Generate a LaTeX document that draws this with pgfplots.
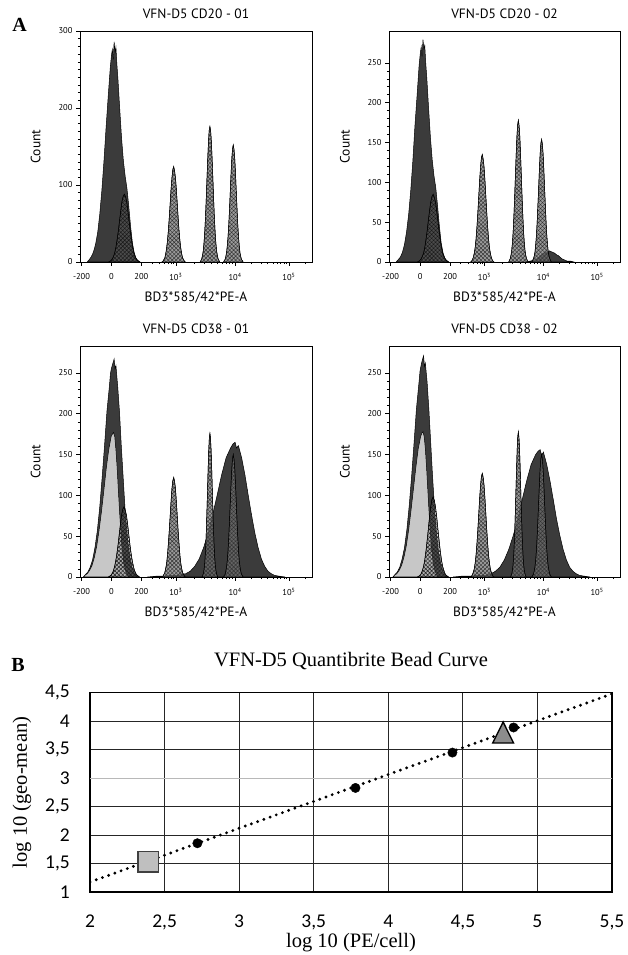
\documentclass[border=0pt]{standalone}
\usepackage{fontspec}
\usepackage{pgfplots}
\pgfplotsset{compat=1.18}
\usetikzlibrary{patterns.meta}
\newfontfamily\fj{PT Sans}
\newfontfamily\tnr{Liberation Serif}
\newfontfamily\carl{Carlito}

\tikzset{
  darkfill/.style={fill=black!77, draw=black, line width=0.5pt},
  lightfill/.style={fill=black!22, draw=black, line width=0.5pt},
  beadfill/.style={fill=black!55, fill opacity=0.72, draw=black, line width=0.45pt,
    postaction={fill opacity=1, pattern={Hatch[angle=45,distance=2.8pt,line width=0.45pt]}, pattern color=black!80}},
  beadlow/.style={fill=black!55, fill opacity=0.3, draw=black, line width=0.45pt,
    postaction={fill opacity=1, pattern={Hatch[angle=45,distance=2.8pt,line width=0.45pt]}, pattern color=black!90}},
}

\pgfplotsset{
  hist/.style={
    scale only axis, width=232pt, height=231pt,
    xmin=-0.05, xmax=7.7, ymin=0,
    axis on top,
    axis line style={line width=0.7pt},
    xtick={0,1,2,3.15,5.13,6.93},
    xticklabels={-200,0,200,10\textsuperscript{3},10\textsuperscript{4},10\textsuperscript{5}},
    minor xtick={2.35,2.6,2.78,2.9,3.0,3.07,3.75,4.09,4.34,4.53,4.69,4.82,4.94,5.04,5.67,5.99,6.21,6.39,6.53,6.65,6.76,6.85,7.47},
    tick align=outside, xtick pos=left, ytick pos=left,
    major tick length=4pt, minor tick length=2.2pt,
    every tick/.style={black, line width=0.5pt},
    ticklabel style={font=\fj\fontsize{8.5}{10}\selectfont},
    xticklabel style={yshift=-4pt},
    /pgf/number format/assume math mode=true,
    title style={font=\fj\fontsize{13.5}{15}\selectfont, at={(axis description cs:0.5,1.028)}, anchor=base, yshift=0pt},
    xlabel={BD3*585/42*PE-A},
    ylabel={Count},
    every axis x label/.style={font=\fj\fontsize{13.5}{15}\selectfont, at={(axis description cs:0.5,-0.169)}, anchor=base},
    every axis y label/.style={font=\fj\fontsize{13.5}{15}\selectfont, at={(axis description cs:-0.171,0.5)}, rotate=90, anchor=base},
  }
}

\begin{document}
\begin{tikzpicture}
\useasboundingbox (0,0) rectangle (627pt,955pt);

\node[anchor=base, font=\tnr\bfseries\fontsize{20}{22}\selectfont] at (19.5pt,923pt) {A};
\node[anchor=base, font=\tnr\bfseries\fontsize{20}{22}\selectfont] at (18pt,283pt) {B};

% ---------------- Panel 1 ----------------
\begin{axis}[hist, at={(80pt,693pt)}, anchor=south west, ymax=300,
  ytick={0,100,200,300}, minor y tick num=9, title={VFN-D5 CD20 - 01}]
\addplot[darkfill] coordinates {(0.19,0)(0.26,3)(0.33,7)(0.40,13)(0.47,23)(0.54,38)(0.61,62)(0.68,93)(0.75,131)(0.82,174)(0.89,214)(0.96,252)(1.00,268)(1.03,276)(1.06,263)(1.09,286)(1.12,272)(1.15,279)(1.18,258)(1.22,236)(1.28,197)(1.34,160)(1.40,131)(1.46,111)(1.52,95)(1.58,72)(1.64,46)(1.70,25)(1.76,12)(1.82,5)(1.88,2)(1.95,0)} \closedcycle;
\addplot[beadlow] coordinates {(0.91,0)(0.95,1)(0.99,2)(1.03,4)(1.07,7)(1.11,12)(1.15,19)(1.19,29)(1.23,40)(1.27,53)(1.31,66)(1.35,78)(1.39,85)(1.43,88)(1.47,85)(1.51,78)(1.55,66)(1.59,53)(1.63,40)(1.67,29)(1.71,19)(1.75,12)(1.79,7)(1.83,4)(1.87,2)(1.91,1)(1.95,0)} \closedcycle;
\addplot[beadfill] coordinates {(2.69,0)(2.72,1)(2.75,3)(2.78,5)(2.81,10)(2.84,17)(2.87,27)(2.90,40)(2.93,57)(2.96,75)(2.99,94)(3.02,109)(3.05,120)(3.08,124)(3.11,118)(3.14,109)(3.17,94)(3.20,75)(3.23,57)(3.26,40)(3.29,27)(3.32,17)(3.35,10)(3.38,5)(3.41,3)(3.44,1)(3.47,0)} \closedcycle;
\addplot[beadfill] coordinates {(3.965,0)(3.99,2)(4.015,4)(4.04,8)(4.065,14)(4.09,24)(4.115,38)(4.14,57)(4.165,81)(4.19,107)(4.215,133)(4.24,155)(4.265,171)(4.29,176)(4.315,170)(4.34,155)(4.365,133)(4.39,107)(4.415,81)(4.44,57)(4.465,38)(4.49,24)(4.515,14)(4.54,8)(4.565,4)(4.59,2)(4.615,0)} \closedcycle;
\addplot[beadfill] coordinates {(4.745,0)(4.77,2)(4.795,3)(4.82,7)(4.845,12)(4.87,21)(4.895,33)(4.92,49)(4.945,70)(4.97,92)(4.995,115)(5.02,134)(5.045,147)(5.07,152)(5.095,146)(5.12,134)(5.145,115)(5.17,92)(5.195,70)(5.22,49)(5.245,33)(5.27,21)(5.295,12)(5.32,7)(5.345,3)(5.37,2)(5.395,0)} \closedcycle;
\end{axis}

% ---------------- Panel 2 ----------------
\begin{axis}[hist, at={(389pt,693pt)}, anchor=south west, width=231pt, ymax=290,
  ytick={0,50,100,150,200,250}, minor y tick num=4, title={VFN-D5 CD20 - 02}]
\addplot[darkfill] coordinates {(0.19,0)(0.26,3)(0.33,6)(0.40,12)(0.47,22)(0.54,38)(0.61,60)(0.68,90)(0.75,127)(0.82,171)(0.89,208)(0.96,247)(1.00,262)(1.03,270)(1.06,258)(1.09,279)(1.12,268)(1.15,272)(1.18,251)(1.22,230)(1.28,192)(1.34,156)(1.40,128)(1.46,108)(1.52,93)(1.58,70)(1.64,45)(1.70,24)(1.76,12)(1.82,5)(1.88,2)(1.95,0)} \closedcycle;
\addplot[darkfill] coordinates {(4.55,0)(4.67,1)(4.79,2)(4.85,3)(4.91,4)(4.97,6)(5.03,8)(5.09,10)(5.15,11)(5.21,13)(5.27,12)(5.33,14)(5.39,13)(5.45,12)(5.51,11)(5.57,9)(5.63,8)(5.69,6)(5.75,4)(5.81,3)(5.87,2)(5.93,1)(6.05,1)(6.15,0)} \closedcycle;
\addplot[beadlow] coordinates {(0.91,0)(0.95,1)(0.99,2)(1.03,4)(1.07,7)(1.11,11)(1.15,18)(1.19,28)(1.23,39)(1.27,52)(1.31,64)(1.35,75)(1.39,82)(1.43,85)(1.47,81)(1.51,75)(1.55,64)(1.59,52)(1.63,39)(1.67,28)(1.71,18)(1.75,11)(1.79,7)(1.83,4)(1.87,2)(1.91,1)(1.95,0)} \closedcycle;
\addplot[beadfill] coordinates {(2.69,0)(2.72,1)(2.75,3)(2.78,6)(2.81,11)(2.84,18)(2.87,29)(2.90,44)(2.93,62)(2.96,82)(2.99,102)(3.02,119)(3.05,131)(3.08,135)(3.11,129)(3.14,119)(3.17,102)(3.20,82)(3.23,62)(3.26,44)(3.29,29)(3.32,18)(3.35,11)(3.38,6)(3.41,3)(3.44,1)(3.47,0)} \closedcycle;
\addplot[beadfill] coordinates {(3.965,0)(3.99,2)(4.015,4)(4.04,8)(4.065,14)(4.09,24)(4.115,38)(4.14,58)(4.165,82)(4.19,108)(4.215,134)(4.24,157)(4.265,172)(4.29,178)(4.315,171)(4.34,157)(4.365,134)(4.39,108)(4.415,82)(4.44,58)(4.465,38)(4.49,24)(4.515,14)(4.54,8)(4.565,4)(4.59,2)(4.615,0)} \closedcycle;
\addplot[beadfill] coordinates {(4.745,0)(4.77,2)(4.795,4)(4.82,7)(4.845,12)(4.87,21)(4.895,33)(4.92,50)(4.945,71)(4.97,93)(4.995,116)(5.02,136)(5.045,149)(5.07,154)(5.095,148)(5.12,136)(5.145,116)(5.17,93)(5.195,71)(5.22,50)(5.245,33)(5.27,21)(5.295,12)(5.32,7)(5.345,4)(5.37,2)(5.395,0)} \closedcycle;
\end{axis}

% ---------------- Panel 3 ----------------
\begin{axis}[hist, at={(80pt,378pt)}, anchor=south west, ymax=283,
  ytick={0,50,100,150,200,250}, minor y tick num=4, title={VFN-D5 CD38 - 01}]
\addplot[darkfill] coordinates {(0.08,0)(0.13,3)(0.21,6)(0.29,12)(0.37,21)(0.45,36)(0.53,57)(0.61,86)(0.69,122)(0.77,161)(0.85,203)(0.93,233)(0.97,250)(1.01,257)(1.05,262)(1.09,267)(1.12,255)(1.15,259)(1.21,233)(1.27,202)(1.33,160)(1.39,123)(1.45,86)(1.51,57)(1.57,36)(1.63,21)(1.69,12)(1.75,6)(1.81,3)(1.88,0)} \closedcycle;
\addplot[lightfill] coordinates {(0.06,0)(0.11,2)(0.19,4)(0.27,8)(0.35,14)(0.43,24)(0.51,38)(0.59,58)(0.67,81)(0.75,107)(0.83,134)(0.91,156)(0.99,172)(1.03,175)(1.07,177)(1.11,172)(1.15,156)(1.19,134)(1.23,107)(1.27,81)(1.31,58)(1.35,38)(1.39,24)(1.43,14)(1.47,8)(1.51,4)(1.55,2)(1.60,0)} \closedcycle;
\addplot[darkfill] coordinates {(2.2,0)(2.5,1)(2.8,1)(3.0,2)(3.18,2)(3.33,3)(3.48,4)(3.63,7)(3.78,13)(3.93,22)(4.08,36)(4.23,54)(4.38,76)(4.53,100)(4.68,125)(4.83,146)(4.98,158)(5.06,163)(5.13,165)(5.18,158)(5.24,161)(5.35,146)(5.46,125)(5.57,100)(5.68,76)(5.79,54)(5.90,36)(6.01,22)(6.12,13)(6.23,7)(6.34,4)(6.45,2)(6.6,1)(6.8,0)} \closedcycle;
\addplot[beadlow] coordinates {(0.90,0)(0.94,1)(0.98,2)(1.02,4)(1.06,7)(1.10,12)(1.14,19)(1.18,28)(1.22,39)(1.26,52)(1.30,65)(1.34,76)(1.38,83)(1.42,86)(1.46,82)(1.50,76)(1.54,65)(1.58,52)(1.62,39)(1.66,28)(1.70,19)(1.74,12)(1.78,7)(1.82,4)(1.86,2)(1.90,1)(1.94,0)} \closedcycle;
\addplot[beadfill] coordinates {(2.69,0)(2.72,1)(2.75,3)(2.78,5)(2.81,10)(2.84,16)(2.87,26)(2.90,40)(2.93,56)(2.96,74)(2.99,92)(3.02,108)(3.05,118)(3.08,122)(3.11,117)(3.14,108)(3.17,92)(3.20,74)(3.23,56)(3.26,40)(3.29,26)(3.32,16)(3.35,10)(3.38,5)(3.41,3)(3.44,1)(3.47,0)} \closedcycle;
\addplot[beadfill] coordinates {(4.03,0)(4.05,2)(4.07,4)(4.09,8)(4.11,14)(4.13,24)(4.15,38)(4.17,57)(4.19,81)(4.21,107)(4.23,133)(4.25,155)(4.27,171)(4.29,176)(4.31,170)(4.33,155)(4.35,133)(4.37,107)(4.39,81)(4.41,57)(4.43,38)(4.45,24)(4.47,14)(4.49,8)(4.51,4)(4.53,2)(4.55,0)} \closedcycle;
\addplot[beadfill] coordinates {(4.745,0)(4.77,2)(4.795,3)(4.82,7)(4.845,12)(4.87,20)(4.895,32)(4.92,49)(4.945,69)(4.97,91)(4.995,113)(5.02,132)(5.045,145)(5.07,150)(5.095,144)(5.12,132)(5.145,113)(5.17,91)(5.195,69)(5.22,49)(5.245,32)(5.27,20)(5.295,12)(5.32,7)(5.345,3)(5.37,2)(5.395,0)} \closedcycle;
\end{axis}

% ---------------- Panel 4 ----------------
\begin{axis}[hist, at={(389pt,378pt)}, anchor=south west, width=231pt, ymax=283,
  ytick={0,50,100,150,200,250}, minor y tick num=4, title={VFN-D5 CD38 - 02}]
\addplot[darkfill] coordinates {(0.10,0)(0.15,3)(0.23,6)(0.31,12)(0.39,22)(0.47,36)(0.55,58)(0.63,88)(0.71,124)(0.79,164)(0.87,206)(0.95,236)(0.99,252)(1.03,260)(1.07,266)(1.11,271)(1.14,258)(1.17,262)(1.23,238)(1.29,204)(1.35,164)(1.41,124)(1.47,88)(1.53,58)(1.59,36)(1.65,22)(1.71,12)(1.77,6)(1.83,3)(1.90,0)} \closedcycle;
\addplot[lightfill] coordinates {(0.08,0)(0.13,2)(0.21,4)(0.29,8)(0.37,14)(0.45,24)(0.53,38)(0.61,58)(0.69,82)(0.77,108)(0.85,134)(0.93,157)(1.01,172)(1.05,176)(1.09,178)(1.13,172)(1.17,157)(1.21,134)(1.25,108)(1.29,82)(1.33,58)(1.37,38)(1.41,24)(1.45,14)(1.49,8)(1.53,4)(1.57,2)(1.62,0)} \closedcycle;
\addplot[darkfill] coordinates {(2.1,0)(2.4,1)(2.7,1)(2.9,2)(3.08,2)(3.22,2)(3.37,4)(3.52,7)(3.67,12)(3.82,21)(3.97,34)(4.12,51)(4.27,71)(4.42,95)(4.57,118)(4.72,138)(4.87,150)(4.95,154)(5.02,156)(5.07,149)(5.13,153)(5.24,138)(5.35,118)(5.46,95)(5.57,71)(5.68,51)(5.79,34)(5.90,21)(6.01,12)(6.12,7)(6.23,4)(6.34,2)(6.5,1)(6.7,0)} \closedcycle;
\addplot[beadlow] coordinates {(0.91,0)(0.95,1)(0.99,2)(1.03,4)(1.07,8)(1.11,13)(1.15,21)(1.19,32)(1.23,45)(1.27,59)(1.31,74)(1.35,86)(1.39,95)(1.43,98)(1.47,94)(1.51,86)(1.55,74)(1.59,59)(1.63,45)(1.67,32)(1.71,21)(1.75,13)(1.79,8)(1.83,4)(1.87,2)(1.91,1)(1.95,0)} \closedcycle;
\addplot[beadfill] coordinates {(2.69,0)(2.72,1)(2.75,3)(2.78,6)(2.81,10)(2.84,17)(2.87,27)(2.90,41)(2.93,58)(2.96,77)(2.99,96)(3.02,112)(3.05,123)(3.08,127)(3.11,122)(3.14,112)(3.17,96)(3.20,77)(3.23,58)(3.26,41)(3.29,27)(3.32,17)(3.35,10)(3.38,6)(3.41,3)(3.44,1)(3.47,0)} \closedcycle;
\addplot[beadfill] coordinates {(4.03,0)(4.05,2)(4.07,4)(4.09,8)(4.11,14)(4.13,24)(4.15,38)(4.17,58)(4.19,82)(4.21,108)(4.23,134)(4.25,157)(4.27,172)(4.29,178)(4.31,171)(4.33,157)(4.35,134)(4.37,108)(4.39,82)(4.41,58)(4.43,38)(4.45,24)(4.47,14)(4.49,8)(4.51,4)(4.53,2)(4.55,0)} \closedcycle;
\addplot[beadfill] coordinates {(4.745,0)(4.77,2)(4.795,3)(4.82,7)(4.845,12)(4.87,20)(4.895,32)(4.92,49)(4.945,69)(4.97,91)(4.995,113)(5.02,132)(5.045,145)(5.07,150)(5.095,144)(5.12,132)(5.145,113)(5.17,91)(5.195,69)(5.22,49)(5.245,32)(5.27,20)(5.295,12)(5.32,7)(5.345,3)(5.37,2)(5.395,0)} \closedcycle;
\end{axis}

% ---------------- Panel B ----------------
\begin{axis}[at={(90pt,62.7pt)}, anchor=south west, scale only axis,
  width=522pt, height=199.6pt,
  xmin=2, xmax=5.5, ymin=1, ymax=4.5,
  xtick={2,2.5,3,3.5,4,4.5,5,5.5},
  xticklabels={2,{2,5},3,{3,5},4,{4,5},5,{5,5}},
  ytick={1,1.5,2,2.5,3.5,4,4.5},
  yticklabels={1,{1,5},2,{2,5},{3,5},4,{4,5}},
  extra y ticks={3}, extra y tick labels={3},
  extra y tick style={grid=major, major grid style={black!28, line width=1pt}},
  grid=major, major grid style={black!85, line width=0.8pt},
  major tick length=0pt,
  axis line style={line width=1.3pt},
  ticklabel style={font=\carl\fontsize{19.5}{22}\selectfont},
  xticklabel style={anchor=base, yshift=-35.5pt},
  yticklabel style={anchor=east, inner sep=0pt, xshift=-20pt},
  title={VFN-D5 Quantibrite Bead Curve},
  title style={font=\tnr\fontsize{20.5}{23}\selectfont, at={(axis description cs:0.5,1.099)}, anchor=base, yshift=0pt},
  xlabel={log 10 (PE/cell)}, ylabel={log 10 (geo-mean)},
  every axis x label/.style={font=\tnr\fontsize{20.5}{23}\selectfont, at={(axis description cs:0.5,-0.2756)}, anchor=base},
  every axis y label/.style={font=\tnr\fontsize{20.5}{23}\selectfont, at={(axis description cs:-0.1207,0.5)}, rotate=90, anchor=base},
]
\addplot[only marks, mark=square*, mark size=10.3pt, mark options={fill=black!25, draw=black!75, line width=1.4pt}] coordinates {(2.39,1.54)};
\addplot[no marks, black, line width=3.2pt, line cap=round, dash pattern=on 0pt off 6.6pt] coordinates {(2,1.18) (5.5,4.48)};
\addplot[only marks, mark=*, mark size=4.7pt, black] coordinates {(2.72,1.86) (3.78,2.83) (4.43,3.45) (4.84,3.89)};
\addplot[only marks, mark=triangle*, mark size=14pt, mark options={xscale=0.86, fill=black!45, draw=black, line width=1.4pt}] coordinates {(4.77,3.74)};
\draw[line width=2.4pt] (rel axis cs:0,0) -- (rel axis cs:1,0);
\end{axis}
\end{tikzpicture}
\end{document}
